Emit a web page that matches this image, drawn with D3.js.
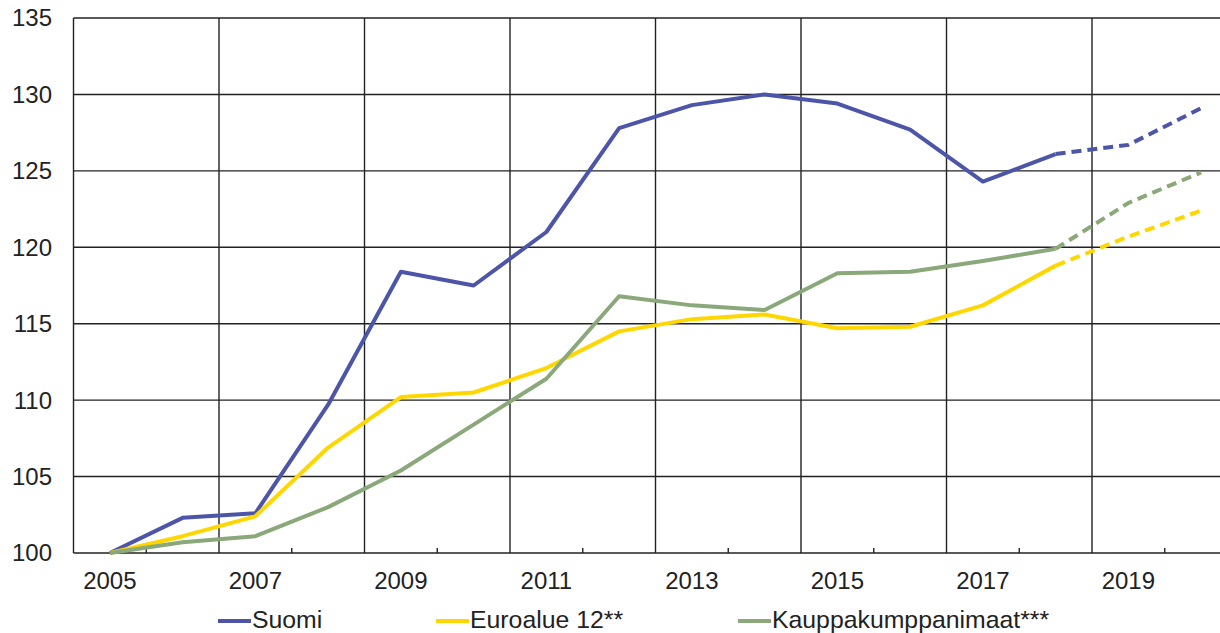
<!doctype html>
<meta charset="utf-8">
<title>Kustannuskilpailukyky</title>
<script src="https://cdn.jsdelivr.net/npm/d3@7"></script>
<style>
  body { margin: 0; background: #fff; }
  svg text { font-family: "Liberation Sans", Arial, sans-serif; fill: #222; }
</style>
<body>
<script>
var years = d3.range(2005, 2021);
var suomi = [100, 102.3, 102.6, 109.7, 118.4, 117.5, 121.0, 127.8, 129.3, 130.0, 129.4, 127.7, 124.3, 126.1, 126.7, 129.1];
var euroalue = [100, 101.1, 102.4, 106.9, 110.2, 110.5, 112.1, 114.5, 115.3, 115.6, 114.7, 114.8, 116.2, 118.8, 120.7, 122.4];
var kauppa = [100, 100.7, 101.1, 103.0, 105.4, 108.4, 111.4, 116.8, 116.2, 115.9, 118.3, 118.4, 119.1, 119.9, 122.9, 124.9];
var yTicks = [100, 105, 110, 115, 120, 125, 130, 135];
var forecastFrom = 2018;

var series = [
  { name: 'Suomi', values: suomi, color: '#4c55a8', lx: 218 },
  { name: 'Euroalue 12**', values: euroalue, color: '#ffd700', lx: 436 },
  { name: 'Kauppakumppanimaat***', values: kauppa, color: '#8aa87a', lx: 738 }
];

var width = 1220, height = 633;
var mLeft = 73.5, mTop = 18, mBottom = 553, mRight = 73.5 + 16 * 72.75;

var svg = d3.select('body').append('svg')
  .attr('width', width)
  .attr('height', height);

var x = d3.scaleBand().domain(years).range([mLeft, mRight]).padding(0);
var y = d3.scaleLinear().domain([100, 135]).range([mBottom, mTop]);
var cx = function(yr) { return x(yr) + x.bandwidth() / 2; };

// grid
svg.append('g').selectAll('line')
  .data(yTicks)
  .enter().append('line')
  .attr('x1', mLeft).attr('x2', mRight)
  .attr('y1', function(d) { return y(d) }).attr('y2', function(d) { return y(d) })
  .attr('stroke', '#222').attr('stroke-width', 1.4);

svg.append('g').selectAll('line')
  .data(years.filter(function(d) { return d % 2 == 1 }))
  .enter().append('line')
  .attr('x1', function(d) { return x(d) }).attr('x2', function(d) { return x(d) })
  .attr('y1', mTop).attr('y2', mBottom)
  .attr('stroke', '#222').attr('stroke-width', 1.4);

// minor ticks on the x axis
svg.append('g').selectAll('line')
  .data(years.filter(function(d) { return d % 2 == 0 }))
  .enter().append('line')
  .attr('x1', function(d) { return x(d) }).attr('x2', function(d) { return x(d) })
  .attr('y1', mBottom - 5).attr('y2', mBottom)
  .attr('stroke', '#222').attr('stroke-width', 1.4);

// y labels
svg.append('g').selectAll('text')
  .data(yTicks)
  .enter().append('text')
  .attr('x', 52).attr('y', function(d) { return y(d) })
  .attr('dy', '0.35em')
  .attr('text-anchor', 'end')
  .style('font-size', '24px')
  .text(function(d) { return d });

// x labels
svg.append('g').selectAll('text')
  .data(years.filter(function(d) { return d % 2 == 1 }))
  .enter().append('text')
  .attr('x', cx).attr('y', 589)
  .attr('text-anchor', 'middle')
  .style('font-size', '24px')
  .text(function(d) { return d });

// lines (dashed part = forecast)
var line = d3.line()
  .x(function(d) { return cx(d.year) })
  .y(function(d) { return y(d.v) });

series.forEach(function(s) {
  var pts = years.map(function(yr, i) { return { year: yr, v: s.values[i] }; });
  svg.append('path')
    .datum(pts.filter(function(d) { return d.year <= forecastFrom }))
    .attr('d', line)
    .attr('fill', 'none').attr('stroke', s.color)
    .attr('stroke-width', 4).attr('stroke-linejoin', 'round');
  svg.append('path')
    .datum(pts.filter(function(d) { return d.year >= forecastFrom }))
    .attr('d', line)
    .attr('fill', 'none').attr('stroke', s.color)
    .attr('stroke-width', 4).attr('stroke-dasharray', '10,6');
});

// legend
var leg = svg.append('g').selectAll('g')
  .data(series)
  .enter().append('g');
leg.append('line')
  .attr('x1', function(d) { return d.lx }).attr('x2', function(d) { return d.lx + 33 })
  .attr('y1', 621).attr('y2', 621)
  .attr('stroke', function(d) { return d.color }).attr('stroke-width', 4);
leg.append('text')
  .attr('x', function(d) { return d.lx + 34 }).attr('y', 628)
  .style('font-size', '24.8px')
  .text(function(d) { return d.name });
</script>
</body>
